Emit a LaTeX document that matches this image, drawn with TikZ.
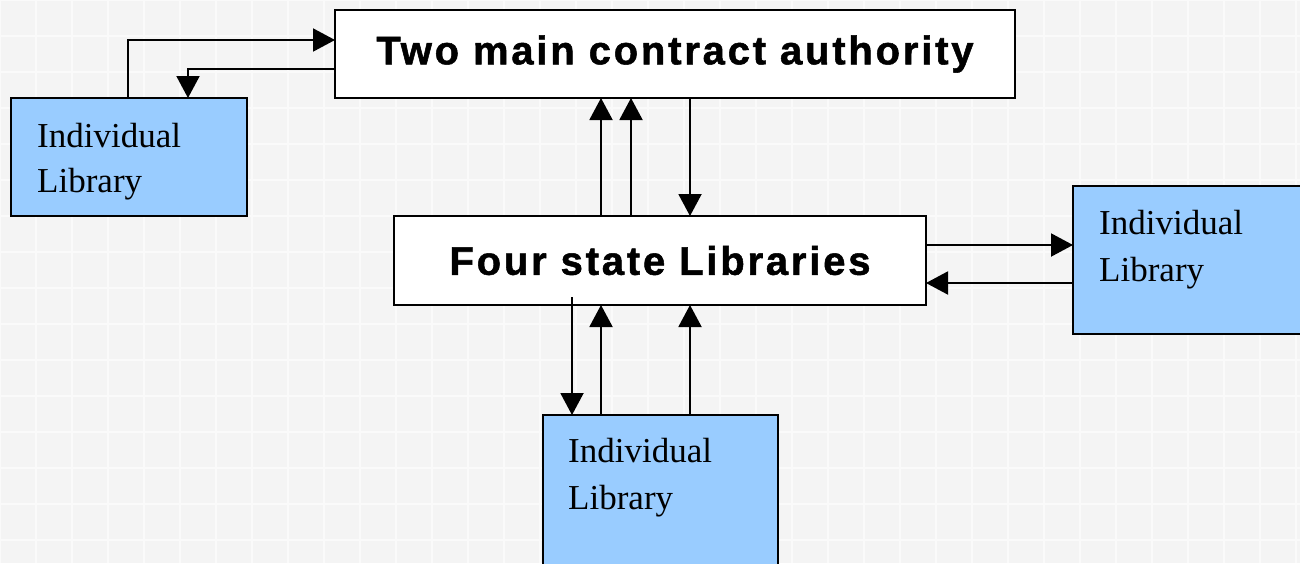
\documentclass[tikz,border=0pt]{standalone}
\usepackage{fontspec}
\setmainfont{Liberation Serif}
\newfontfamily\headfont[LetterSpace=7, BoldFeatures={FakeBold=1.3}]{Liberation Sans}
\usetikzlibrary{arrows.meta}
\definecolor{bg}{HTML}{F4F4F4}
\definecolor{libblue}{HTML}{99CCFF}
\tikzset{
  box/.style={draw=black, line width=2.5pt, inner sep=0pt, outer sep=0pt, anchor=north west},
  headbox/.style={box, fill=white, font=\headfont\bfseries\fontsize{40}{46}\selectfont},
  libbox/.style={box, fill=libblue},
  libtext/.style={anchor=base west, inner sep=0pt, font=\fontsize{35}{40}\selectfont},
  arr/.style={line width=2pt, -{Triangle[length=22pt,width=23pt]}}
}
\begin{document}
\begin{tikzpicture}[x=1pt,y=-1pt]
\useasboundingbox (0,0) rectangle (1300,563);
\clip (0,0) rectangle (1300,563);
\fill[bg] (0,0) rectangle (1300,563);
\draw[white, line width=1.5pt, opacity=0.6] (0,0) grid[step=36pt] (1300,563);
% boxes
\node[headbox, minimum width=680pt, minimum height=88pt] (T) at (335,10) {Two main contract authority};
\node[headbox, minimum width=532pt, minimum height=89pt] (F) at (394,216) {Four state Libraries};
\node[libbox, minimum width=236pt, minimum height=118pt] (L) at (11,98) {};
\node[libbox, minimum width=240pt, minimum height=148pt] (R) at (1073,186) {};
\node[libbox, minimum width=235pt, minimum height=160pt] (B) at (543,415) {};
% texts
\node[libtext] (L1) at (37,147) {Individual};
\node[libtext] (L2) at (37,192) {Library};
\node[libtext] (R1) at (1099,234) {Individual};
\node[libtext] (R2) at (1099,281) {Library};
\node[libtext] (B1) at (568,462) {Individual};
\node[libtext] (B2) at (568,509) {Library};
% connectors
\draw[arr] (128,0 |- L.north) |- (T.west |- 0,40);
\draw[arr] (T.west |- 0,69) -| (188,0 |- L.north);
\draw[arr] (601,0 |- F.north) -- (601,0 |- T.south);
\draw[arr] (631,0 |- F.north) -- (631,0 |- T.south);
\draw[arr] (690,0 |- T.south) -- (690,0 |- F.north);
\draw[arr] (F.east |- 0,245) -- (R.west |- 0,245);
\draw[arr] (R.west |- 0,283) -- (F.east |- 0,283);
\draw[arr] ([yshift=8pt]F.south -| 572,0) -- (572,0 |- B.north);
\draw[arr] (601,0 |- B.north) -- (601,0 |- F.south);
\draw[arr] (690,0 |- B.north) -- (690,0 |- F.south);
\end{tikzpicture}
\end{document}
